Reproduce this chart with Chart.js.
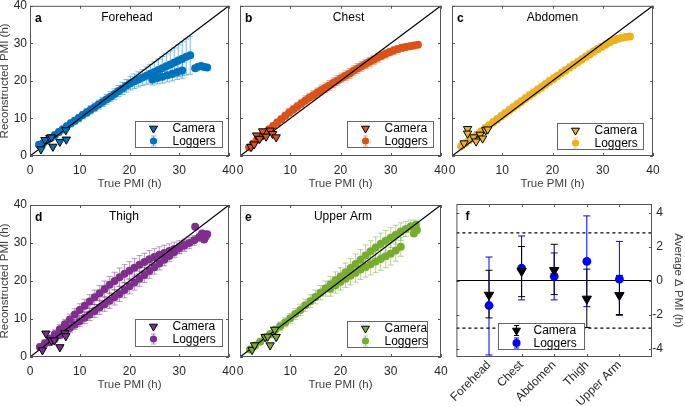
<!DOCTYPE html>
<html>
<head>
<meta charset="utf-8">
<script src="https://cdn.jsdelivr.net/npm/chart.js@4/dist/chart.umd.min.js"></script>
<style>
  body { margin: 0; background: #fff; }
  #fig { position: relative; width: 685px; height: 407px; overflow: hidden; background: #fff; }
  .cell { position: absolute; }
</style>
</head>
<body>
<div id="fig">
  <div class="cell" id="cellA"><canvas id="chartA"></canvas></div>
  <div class="cell" id="cellB"><canvas id="chartB"></canvas></div>
  <div class="cell" id="cellC"><canvas id="chartC"></canvas></div>
  <div class="cell" id="cellD"><canvas id="chartD"></canvas></div>
  <div class="cell" id="cellE"><canvas id="chartE"></canvas></div>
  <div class="cell" id="cellF"><canvas id="chartF"></canvas></div>
</div>
<script>
// axis ticks
const pmiTicks = [0, 10, 20, 30, 40];
const identityLine = [0, 40];
const deltaTicks = [-4, -2, 0, 2, 4];
const deltaRange = [0, 6];
const deltaLimit = 2.8;

// a - Forehead (loggers: true PMI, reconstructed PMI, error)
const foreheadTrue = [1.8,2.6,3.4,4.2,5.0,5.8,6.6,7.4,8.2,9.0,9.8,10.6,11.4,12.2,13.0,13.8,14.6,15.4,16.2,17.0,17.8,18.6,19.4,20.2,21.0,21.8,22.6,23.4,24.2,25.0,25.8,26.6,27.4,28.2,29.0,29.8,30.6,31.4,32.2,
  24.6,25.6,26.6,27.6,28.6,29.6,30.6, 33.2,33.8,34.4,35.0,35.6];
const foreheadRecon = [3.0,3.4,4.1,4.8,5.6,6.4,7.1,7.9,8.7,9.4,10.1,10.9,11.6,12.3,13.0,13.7,14.4,15.1,15.8,16.5,17.3,18.0,18.7,19.4,19.9,20.4,20.9,21.4,21.9,22.4,22.9,23.4,23.9,24.4,24.9,25.4,25.9,26.4,26.8,
  20.4,20.8,21.1,21.5,21.9,22.4,22.8, 23.4,23.8,24.0,23.7,23.6];
const foreheadErr = [0.6,0.6,0.7,0.7,0.7,0.8,0.8,0.8,0.9,0.9,1.0,1.0,1.0,1.1,1.1,1.2,1.2,1.3,1.3,1.4,1.5,1.6,1.7,1.8,1.9,2.0,2.1,2.3,2.5,2.7,2.9,3.1,3.3,3.6,3.9,4.2,4.5,4.8,5.0,
  1.5,1.6,1.7,1.8,1.9,2.0,2.1, 0.6,0.6,0.6,0.6,0.6];
const foreheadCamTrue = [2.2,3.0,4.0,4.3,4.6,6.0,7.3,7.2];
const foreheadCamRecon = [1.8,4.3,4.9,5.0,2.5,3.8,4.4,6.9];

// b - Chest
const chestTrue = [1.8,2.6,3.4,4.2,5.0,5.8,6.6,7.4,8.2,9.0,9.8,10.6,11.4,12.2,13.0,13.8,14.6,15.4,16.2,17.0,17.8,18.6,19.4,20.2,21.0,21.8,22.6,23.4,24.2,25.0,25.8,26.6,27.4,28.2,29.0,29.8,30.6,31.4,32.2,33.0,33.8,34.6,35.4];
const chestRecon = [2.3,3.3,4.3,5.2,6.2,7.1,8.0,8.9,9.8,10.7,11.6,12.4,13.2,14.0,14.8,15.5,16.2,16.9,17.6,18.2,18.8,19.5,20.1,20.8,21.4,22.0,22.7,23.3,23.9,24.5,25.1,25.6,26.2,26.7,27.2,27.7,28.1,28.5,28.8,29.0,29.2,29.4,29.6];
const chestErr = [0.5,0.6,0.6,0.7,0.7,0.8,0.8,0.9,0.9,1.0,1.0,1.1,1.1,1.1,1.2,1.2,1.2,1.2,1.3,1.3,1.3,1.3,1.3,1.3,1.3,1.3,1.3,1.3,1.3,1.2,1.2,1.2,1.2,1.1,1.1,1.0,1.0,0.9,0.9,0.8,0.8,0.7,0.7];
const chestCamTrue = [2.2,2.8,3.3,3.9,4.5,5.2,6.0,6.5,7.2];
const chestCamRecon = [2.4,3.1,5.5,4.6,6.6,5.2,6.8,5.9,5.0];

// c - Abdomen
const abdomenTrue = [1.8,2.6,3.4,4.2,5.0,5.8,6.6,7.4,8.2,9.0,9.8,10.6,11.4,12.2,13.0,13.8,14.6,15.4,16.2,17.0,17.8,18.6,19.4,20.2,21.0,21.8,22.6,23.4,24.2,25.0,25.8,26.6,27.4,28.2,29.0,29.8,30.6,31.4,32.2,33.0,33.8,34.6,35.4];
const abdomenRecon = [2.6,3.4,4.2,4.9,5.7,6.5,7.4,8.2,9.0,9.8,10.6,11.4,12.2,13.0,13.8,14.5,15.3,16.1,16.8,17.6,18.3,19.1,19.9,20.6,21.3,22.1,22.8,23.6,24.3,25.0,25.7,26.4,27.1,27.8,28.5,29.1,29.7,30.3,30.8,31.2,31.5,31.7,31.8];
const abdomenErr = [0.6,0.6,0.7,0.7,0.8,0.8,0.9,0.9,1.0,1.0,1.0,1.0,1.1,1.1,1.1,1.1,1.1,1.1,1.1,1.1,1.1,1.1,1.1,1.1,1.0,1.0,1.0,1.0,1.0,1.0,1.0,1.0,1.0,0.9,0.9,0.9,0.9,0.8,0.8,0.8,0.7,0.7,0.7];
const abdomenCamTrue = [2.4,3.1,3.1,4.3,4.8,5.6,6.1,6.7,7.1];
const abdomenCamRecon = [3.4,7.2,6.0,5.0,3.9,5.7,4.7,6.9,7.1];

// d - Thigh
const thighTrue = [2,3,4,5,6,7,8,9,10,11,12,13,14,15,16,17,18,19,20,21,22,23,24,25,26,27,28,29,30,31,32,33,34,35,
  4,5,6,7,8,9,10,11,12,13,14,15,16,17,18,19,20,21,22,23,24,25,26,27,28,29,30,31,
  33.2,34.6,35.2,35.6,35.0];
const thighRecon = [2.6,3.6,4.8,6.0,7.3,8.6,9.9,11.2,12.4,13.5,14.6,15.7,16.8,17.9,19.0,20.0,21.0,21.9,22.7,23.5,24.3,25.0,25.7,26.3,26.9,27.4,27.9,28.4,28.9,29.4,30.0,30.7,31.5,32.2,
  3.9,4.8,5.8,6.7,7.6,8.5,9.4,10.3,11.2,12.1,13.0,13.9,14.8,15.7,16.6,17.6,18.6,19.6,20.6,21.6,22.6,23.6,24.6,25.6,26.6,27.6,28.6,29.4,
  34.3,32.5,31.5,32.3,30.9];
const thighErr = [0.8,0.9,1.0,1.1,1.2,1.3,1.4,1.5,1.6,1.7,1.8,1.9,2.0,2.1,2.2,2.3,2.4,2.4,2.4,2.4,2.4,2.3,2.3,2.2,2.1,2.0,1.9,1.8,1.7,1.6,1.5,1.3,1.1,1.0,
  0.8,0.9,1.0,1.1,1.2,1.3,1.4,1.5,1.6,1.7,1.8,1.9,2.0,2.0,2.0,2.0,2.0,2.0,2.0,2.0,1.9,1.8,1.7,1.6,1.5,1.4,1.3,1.2,
  0.5,0.8,0.8,0.8,0.8];
const thighCamTrue = [2.5,3.2,4.3,4.9,6.0,7.0,7.2];
const thighCamRecon = [1.8,6.2,4.4,4.4,2.6,6.3,5.5];

// e - Upper Arm
const armTrue = [2,3,4,5,6,7,8,9,10,11,12,13,14,15,16,17,18,19,20,21,22,23,24,25,26,27,28,29,30,31,32,33,34,35,
  18,19,20,21,22,23,24,25,26,27,28,29,30,31,32, 34.6,35.2];
const armRecon = [2.0,3.0,4.0,5.0,6.0,7.1,8.1,9.1,10.2,11.3,12.4,13.6,14.7,15.8,16.9,18.0,19.1,20.2,21.2,22.3,23.4,24.5,25.6,26.7,27.8,28.8,29.8,30.6,31.4,32.2,33.0,33.7,34.4,34.8,
  18.0,18.9,19.8,20.6,21.4,22.2,23.0,23.7,24.4,25.1,25.8,26.5,27.2,28.0,29.0, 32.5,33.4];
const armErr = [0.5,0.6,0.7,0.8,0.9,1.0,1.1,1.2,1.3,1.4,1.5,1.6,1.7,1.8,1.9,2.0,2.1,2.2,2.3,2.4,2.5,2.6,2.7,2.8,2.8,2.8,2.8,2.7,2.6,2.5,2.3,2.0,1.6,1.2,
  2.0,2.1,2.2,2.3,2.4,2.5,2.6,2.7,2.8,2.9,3.0,3.0,3.0,2.8,2.5, 0.8,0.8];
const armCamTrue = [2.4,2.9,5.0,5.5,6.0,6.9,7.2];
const armCamRecon = [1.9,3.1,5.3,5.4,3.1,7.2,5.3];

// f - average delta PMI per site
const siteNames = ['Forehead', 'Chest', 'Abdomen', 'Thigh', 'Upper Arm'];
const siteIndex = [1, 2, 3, 4, 5];
const cameraDelta = [-0.85, 0.55, 0.6, -1.08, -0.87];
const cameraLow = [-2.2, -0.95, -0.83, -2.76, -2.0];
const cameraHigh = [0.6, 2.0, 2.13, 0.67, 0.3];
const loggerDelta = [-1.47, 0.72, 0.24, 1.12, 0.08];
const loggerLow = [-4.38, -1.14, -1.14, -1.54, -2.05];
const loggerHigh = [1.38, 2.62, 1.62, 3.8, 2.3];

const font = '"Liberation Sans", Arial, Helvetica, sans-serif';
Chart.defaults.font.family = font;
Chart.defaults.font.size = 12;

function pts(xs, ys) {
  return xs.map((v, i) => ({ x: v, y: ys[i] }));
}

function tint(hex, a) {
  const n = parseInt(hex.slice(1), 16);
  return `rgba(${(n >> 16) & 255},${(n >> 8) & 255},${n & 255},${a})`;
}

function drawLegend(ctx, area, lg) {
  const bx = Math.round(area.left + lg.x) + 0.5, by = Math.round(area.top + lg.y) + 0.5;
  ctx.fillStyle = '#fff';
  ctx.fillRect(bx, by, lg.w, lg.h);
  ctx.strokeStyle = '#666';
  ctx.lineWidth = 1;
  ctx.strokeRect(bx, by, lg.w, lg.h);
  lg.items.forEach((it, i) => {
    const cy = by + 7 + i * 12.5, cx = bx + lg.markX;
    if (it.bar) {
      ctx.strokeStyle = it.bar;
      ctx.beginPath();
      ctx.moveTo(cx, cy - 5); ctx.lineTo(cx, cy + 5);
      ctx.moveTo(cx - 2.5, cy - 5); ctx.lineTo(cx + 2.5, cy - 5);
      ctx.moveTo(cx - 2.5, cy + 5); ctx.lineTo(cx + 2.5, cy + 5);
      ctx.stroke();
    }
    ctx.fillStyle = it.color;
    ctx.strokeStyle = it.edge || it.color;
    ctx.lineWidth = 1;
    Chart.helpers.drawPoint(ctx, { pointStyle: it.style, rotation: it.rotation || 0, radius: it.r, borderWidth: it.edge ? 1 : 0 }, cx, cy);
    ctx.fillStyle = '#000';
    ctx.font = '12px ' + font;
    ctx.textAlign = 'left';
    ctx.textBaseline = 'middle';
    ctx.fillText(it.label, bx + lg.textX, cy + 0.5);
  });
}

// error bars under the marks, MATLAB style box with inward ticks, labels and legend on top
const panelDeco = {
  id: 'panelDeco',
  beforeDatasetsDraw(chart) {
    const { ctx, chartArea: a, scales: { x, y } } = chart;
    ctx.save();
    ctx.beginPath();
    ctx.rect(a.left, a.top, a.right - a.left, a.bottom - a.top);
    ctx.clip();
    chart.data.datasets.forEach(ds => {
      if (!ds.errLow) return;
      ctx.strokeStyle = ds.errColor;
      ctx.lineWidth = 1;
      ds.data.forEach((p, i) => {
        const px = x.getPixelForValue(p.x);
        const y1 = y.getPixelForValue(ds.errLow[i]);
        const y2 = y.getPixelForValue(ds.errHigh[i]);
        const c = ds.capHalf;
        ctx.beginPath();
        ctx.moveTo(px, y1); ctx.lineTo(px, y2);
        ctx.moveTo(px - c, y1); ctx.lineTo(px + c, y1);
        ctx.moveTo(px - c, y2); ctx.lineTo(px + c, y2);
        ctx.stroke();
      });
    });
    ctx.restore();
  },
  afterDatasetsDraw(chart, args, o) {
    const { ctx, chartArea: a, scales: { x, y } } = chart;
    ctx.save();
    ctx.strokeStyle = '#555';
    ctx.lineWidth = 1;
    ctx.strokeRect(a.left + 0.5, a.top + 0.5, a.right - a.left - 1, a.bottom - a.top - 1);
    ctx.beginPath();
    o.xTicks.forEach(v => {
      const px = Math.round(x.getPixelForValue(v)) + 0.5;
      ctx.moveTo(px, a.bottom); ctx.lineTo(px, a.bottom - 3);
      ctx.moveTo(px, a.top); ctx.lineTo(px, a.top + 3);
    });
    o.yTicks.forEach(v => {
      const py = Math.round(y.getPixelForValue(v)) + 0.5;
      ctx.moveTo(a.left, py); ctx.lineTo(a.left + 3, py);
      ctx.moveTo(a.right, py); ctx.lineTo(a.right - 3, py);
    });
    ctx.stroke();

    ctx.fillStyle = '#000';
    ctx.textBaseline = 'alphabetic';
    ctx.textAlign = 'left';
    ctx.font = 'bold 12px ' + font;
    ctx.fillText(o.letter, a.left + o.letterDx, a.top + 16);
    if (o.name) {
      ctx.font = '12px ' + font;
      ctx.textAlign = 'center';
      ctx.fillText(o.name, a.left + o.nameX * (a.right - a.left), a.top + 15);
    }
    drawLegend(ctx, a, o.legend);
    ctx.restore();
  }
};

function placeCell(id, left, top, width, height) {
  const el = document.getElementById(id);
  el.style.left = left + 'px';
  el.style.top = top + 'px';
  el.style.width = width + 'px';
  el.style.height = height + 'px';
}

const pmiPanels = [
  { id: 'A', rect: { L: 30, T: 5, R: 229, B: 156 }, rowTop: 0, left: -2, right: 240, yLabels: true,
    letter: 'a', name: 'Forehead', nameX: 0.487, color: '#0072BD',
    x: foreheadTrue, y: foreheadRecon, err: foreheadErr, camX: foreheadCamTrue, camY: foreheadCamRecon,
    legend: { x: 105, y: 115, w: 87, h: 26 } },
  { id: 'B', rect: { L: 240, T: 5, R: 441, B: 156 }, rowTop: 0, left: 228, right: 451, yLabels: false,
    letter: 'b', name: 'Chest', nameX: 0.54, color: '#D95319',
    x: chestTrue, y: chestRecon, err: chestErr, camX: chestCamTrue, camY: chestCamRecon,
    legend: { x: 107, y: 115, w: 86, h: 26 } },
  { id: 'C', rect: { L: 452, T: 5, R: 653, B: 156 }, rowTop: 0, left: 440, right: 685, yLabels: false,
    letter: 'c', name: 'Abdomen', nameX: 0.5, color: '#EDB120',
    x: abdomenTrue, y: abdomenRecon, err: abdomenErr, camX: abdomenCamTrue, camY: abdomenCamRecon,
    legend: { x: 105, y: 117, w: 86, h: 26 } },
  { id: 'D', rect: { L: 30, T: 205, R: 229, B: 357 }, rowTop: 190, left: -2, right: 240, yLabels: true,
    letter: 'd', name: 'Thigh', nameX: 0.472, color: '#7E2F8E',
    x: thighTrue, y: thighRecon, err: thighErr, camX: thighCamTrue, camY: thighCamRecon,
    legend: { x: 105, y: 114, w: 87, h: 27 } },
  { id: 'E', rect: { L: 240, T: 205, R: 441, B: 357 }, rowTop: 190, left: 228, right: 451, yLabels: false,
    letter: 'e', name: 'Upper Arm', nameX: 0.512, color: '#77AC30',
    x: armTrue, y: armRecon, err: armErr, camX: armCamTrue, camY: armCamRecon,
    legend: { x: 107, y: 116, w: 80, h: 26 } }
];

pmiPanels.forEach(p => {
  const r = p.rect;
  const xH = 40;
  const yW = r.L - p.left;
  placeCell('cell' + p.id, p.left, p.rowTop, p.right - p.left, r.B + xH - p.rowTop);
  new Chart(document.getElementById('chart' + p.id), {
    type: 'scatter',
    data: {
      datasets: [
        { label: 'Camera', data: pts(p.camX, p.camY), pointStyle: 'triangle', pointRotation: 180,
          pointRadius: 4.8, backgroundColor: p.color, borderColor: '#000', borderWidth: 1, order: 1 },
        { type: 'line', data: pts(identityLine, identityLine), borderColor: '#000', borderWidth: 1.2,
          pointRadius: 0, order: 2 },
        { label: 'Loggers', data: pts(p.x, p.y), pointRadius: 4, backgroundColor: p.color,
          borderWidth: 0, order: 3,
          errLow: p.y.map((v, i) => v - p.err[i]), errHigh: p.y.map((v, i) => v + p.err[i]),
          errColor: tint(p.color, 0.5), capHalf: 3 }
      ]
    },
    options: {
      responsive: true,
      maintainAspectRatio: false,
      animation: false,
      events: [],
      layout: { padding: { left: 0, top: r.T - p.rowTop, right: p.right - r.R, bottom: 0 } },
      scales: {
        x: {
          type: 'linear', min: 0, max: 40,
          afterBuildTicks: s => { s.ticks = pmiTicks.map(v => ({ value: v })); },
          afterFit: s => { s.height = xH; s.paddingLeft = 0; s.paddingRight = 0; },
          grid: { display: false, drawTicks: false },
          border: { display: false },
          ticks: { color: '#262626', padding: 7, maxRotation: 0, font: { size: 12 } },
          title: { display: true, text: 'True PMI (h)', color: '#404040', font: { size: 11.5 },
                   padding: { top: 0, bottom: 5 } }
        },
        y: {
          type: 'linear', min: 0, max: 40,
          afterBuildTicks: s => { s.ticks = pmiTicks.map(v => ({ value: v })); },
          afterFit: s => { s.width = yW; s.paddingTop = 0; s.paddingBottom = 0; },
          grid: { display: false, drawTicks: false },
          border: { display: false },
          ticks: { display: p.yLabels, color: '#262626', padding: 3, font: { size: 12 } },
          title: { display: p.yLabels, text: 'Reconstructed PMI (h)', color: '#404040',
                   font: { size: 11.5 }, padding: 0 }
        }
      },
      plugins: {
        legend: { display: false },
        tooltip: { enabled: false },
        panelDeco: {
          xTicks: pmiTicks, yTicks: pmiTicks, letter: p.letter, letterDx: 5, name: p.name, nameX: p.nameX,
          legend: Object.assign({}, p.legend, {
            markX: 18, textX: 37,
            items: [
              { label: 'Camera', style: 'triangle', rotation: 180, r: 4.6, color: p.color, edge: '#000' },
              { label: 'Loggers', style: 'circle', r: 3.6, color: p.color, bar: tint(p.color, 0.5) }
            ]
          })
        }
      }
    },
    plugins: [panelDeco]
  });
});

// panel f
(function () {
  const r = { L: 450, T: 204, R: 652, B: 357 };
  const rowTop = 190, left = 450, right = 685, xH = 50;
  placeCell('cellF', left, rowTop, right - left, r.B + xH - rowTop);
  const flat = v => pts(deltaRange, deltaRange.map(() => v));
  new Chart(document.getElementById('chartF'), {
    type: 'scatter',
    data: {
      datasets: [
        { label: 'Loggers', data: pts(siteIndex, loggerDelta), pointRadius: 4.4, backgroundColor: '#0000FF',
          borderWidth: 0, order: 2, errLow: loggerLow, errHigh: loggerHigh, errColor: '#0000FF', capHalf: 3.5 },
        { label: 'Camera', data: pts(siteIndex, cameraDelta), pointStyle: 'triangle', pointRotation: 180,
          pointRadius: 5.4, backgroundColor: '#000', borderColor: '#000', borderWidth: 1, order: 1,
          errLow: cameraLow, errHigh: cameraHigh, errColor: '#000', capHalf: 3.5 },
        { type: 'line', data: flat(0), borderColor: '#000', borderWidth: 1.2, pointRadius: 0, order: 5 },
        { type: 'line', data: flat(deltaLimit), borderColor: '#000', borderWidth: 1.4, borderDash: [3, 3],
          pointRadius: 0, order: 5 },
        { type: 'line', data: flat(-deltaLimit), borderColor: '#000', borderWidth: 1.4, borderDash: [3, 3],
          pointRadius: 0, order: 5 }
      ]
    },
    options: {
      responsive: true,
      maintainAspectRatio: false,
      animation: false,
      events: [],
      layout: { padding: { left: 0, top: r.T - rowTop, right: right - r.R - 11, bottom: 0 } },
      scales: {
        x: {
          type: 'linear', min: deltaRange[0], max: deltaRange[1],
          afterBuildTicks: s => { s.ticks = siteIndex.map(v => ({ value: v })); },
          afterFit: s => { s.height = xH; s.paddingLeft = 0; s.paddingRight = 0; },
          grid: { display: false, drawTicks: false },
          border: { display: false },
          ticks: { color: '#262626', padding: 1, minRotation: 45, maxRotation: 45, autoSkip: false,
                   font: { size: 12 }, callback: v => siteNames[siteIndex.indexOf(v)] }
        },
        y: {
          type: 'linear', position: 'right', min: -4.5, max: 4.5,
          afterBuildTicks: s => { s.ticks = deltaTicks.map(v => ({ value: v })); },
          afterFit: s => { s.width = 11; s.paddingTop = 0; s.paddingBottom = 0; },
          grid: { display: false, drawTicks: false },
          border: { display: false },
          ticks: { color: '#262626', padding: 0, crossAlign: 'far', font: { size: 12 } },
          title: { display: true, text: 'Average \u0394 PMI (h)', color: '#404040', font: { size: 11.5 },
                   padding: { top: -22, bottom: 0 } }
        }
      },
      plugins: {
        legend: { display: false },
        tooltip: { enabled: false },
        panelDeco: {
          xTicks: siteIndex, yTicks: deltaTicks, letter: 'f', letterDx: 9, name: '', nameX: 0.5,
          legend: {
            x: 42, y: 119, w: 86, h: 26, markX: 18, textX: 35,
            items: [
              { label: 'Camera', style: 'triangle', rotation: 180, r: 4.6, color: '#000', edge: '#000', bar: '#000' },
              { label: 'Loggers', style: 'circle', r: 4, color: '#0000FF', bar: '#0000FF' }
            ]
          }
        }
      }
    },
    plugins: [panelDeco]
  });
})();
</script>
</body>
</html>
